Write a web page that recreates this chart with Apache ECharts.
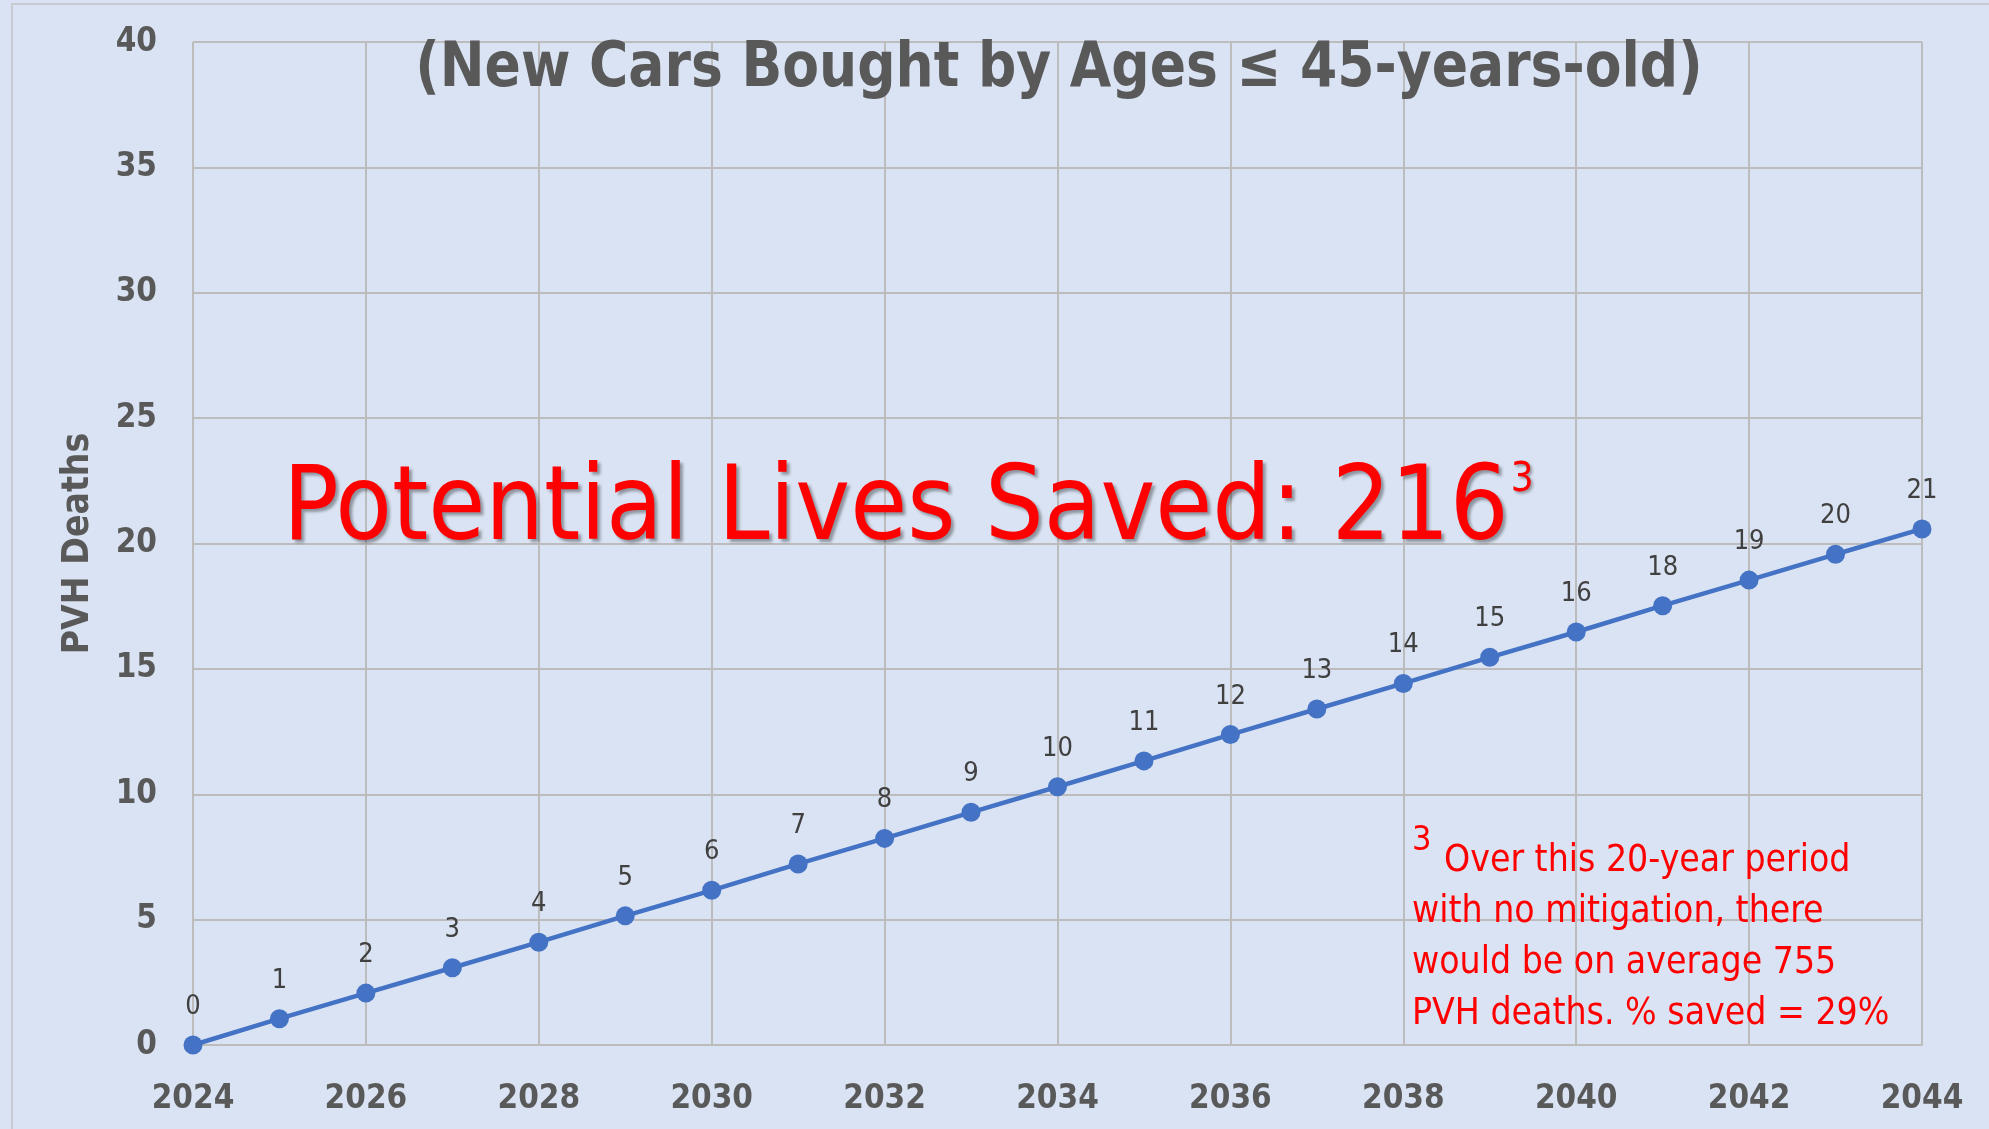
<!DOCTYPE html>
<html>
<head>
<meta charset="utf-8">
<script src="https://cdn.jsdelivr.net/npm/echarts@6/dist/echarts.min.js"></script>
<style>
  html, body { margin: 0; padding: 0; background: #dae3f3; }
  #chart { width: 1989px; height: 1129px; }
</style>
</head>
<body>
<div id="chart"></div>
<script>
// values
var years = [2024, 2025, 2026, 2027, 2028, 2029, 2030, 2031, 2032, 2033, 2034,
             2035, 2036, 2037, 2038, 2039, 2040, 2041, 2042, 2043, 2044];
var pvhDeaths = [0, 1.05, 2.07, 3.08, 4.10, 5.15, 6.17, 7.22, 8.24, 9.28, 10.30,
                 11.33, 12.38, 13.40, 14.42, 15.46, 16.47, 17.52, 18.54, 19.57, 20.58];
var titleText = '(New Cars Bought by Ages \u2264 45-years-old)';
var bigNote = 'Potential Lives Saved: 216';
var footNoteLines = [
  'Over this 20-year period',
  'with no mitigation, there',
  'would be on average 755',
  'PVH deaths. % saved = 29%'
];

var font = "'DejaVu Sans Condensed', 'DejaVu Sans', sans-serif";
var grey = '#595959';
var rule = '#bcbcbc';
var blue = '#4472c4';
var red = '#ff0000';

var chart = echarts.init(document.getElementById('chart'), null, { renderer: 'canvas' });

var seriesData = years.map(function(y, i) { return [y, pvhDeaths[i]]; });

var graphics = [
  { type: 'rect', z: -1, silent: true,
    shape: { x: 12, y: 4, width: 2100, height: 1200 },
    style: { fill: 'none', stroke: '#c8ccd2', lineWidth: 2 } },
  { type: 'text', z: 10, x: 1059, y: 70, scaleX: 0.945,
    style: { text: titleText, fill: grey, font: 'bold 63px ' + font,
             textAlign: 'center', textVerticalAlign: 'middle' } },
  { type: 'text', z: 10, x: 283, y: 512,
    style: {
      text: '{m|' + bigNote + '}{s|3}',
      textAlign: 'left', textVerticalAlign: 'middle',
      rich: {
        m: { fontSize: 103, fontFamily: font, fill: red,
             textShadowColor: 'rgba(0,0,0,0.35)', textShadowBlur: 3,
             textShadowOffsetX: 3, textShadowOffsetY: 3 },
        s: { fontSize: 40, fontFamily: font, fill: red, verticalAlign: 'top',
             padding: [0, 0, 0, 2],
             textShadowColor: 'rgba(0,0,0,0.35)', textShadowBlur: 3,
             textShadowOffsetX: 2, textShadowOffsetY: 2 }
      }
    } },
  { type: 'text', z: 10, x: 1412, y: 841,
    style: { text: '3', fill: red, font: '34px ' + font,
             textAlign: 'left', textVerticalAlign: 'middle' } }
];
footNoteLines.forEach(function(line, i) {
  graphics.push({
    type: 'text', z: 10, x: i === 0 ? 1444 : 1412, y: 861 + i * 51,
    style: { text: line, fill: red, font: '37px ' + font,
             textAlign: 'left', textVerticalAlign: 'middle' }
  });
});

chart.setOption({
  animation: false,
  backgroundColor: '#dae3f3',
  grid: { left: 193, right: 67, top: 42, bottom: 84, containLabel: false },
  xAxis: {
    type: 'value', min: 2024, max: 2044, interval: 2,
    axisLine: { show: true, lineStyle: { color: rule, width: 2 } },
    axisTick: { show: false },
    splitLine: { show: true, lineStyle: { color: rule, width: 2 } },
    axisLabel: { color: grey, fontFamily: font, fontWeight: 'bold', fontSize: 33, margin: 38,
                 formatter: function(v) { return String(v); } }
  },
  yAxis: {
    type: 'value', min: 0, max: 40, interval: 5,
    name: 'PVH Deaths', nameLocation: 'middle', nameRotate: 90, nameGap: 96,
    nameTextStyle: { color: grey, fontFamily: font, fontWeight: 'bold', fontSize: 37 },
    axisLine: { show: false },
    axisTick: { show: false },
    splitLine: { show: true, lineStyle: { color: rule, width: 2 } },
    axisLabel: { color: grey, fontFamily: font, fontWeight: 'bold', fontSize: 33, margin: 36 }
  },
  series: [{
    type: 'line',
    data: seriesData,
    symbol: 'circle',
    symbolSize: 19,
    lineStyle: { color: blue, width: 4.5 },
    itemStyle: { color: blue },
    label: {
      show: true, position: 'top', distance: 15,
      color: '#404040', fontFamily: font, fontSize: 27,
      formatter: function(p) { return Math.round(p.value[1]); }
    }
  }],
  graphic: graphics
});
window.addEventListener('resize', function() { chart.resize(); });
</script>
</body>
</html>
